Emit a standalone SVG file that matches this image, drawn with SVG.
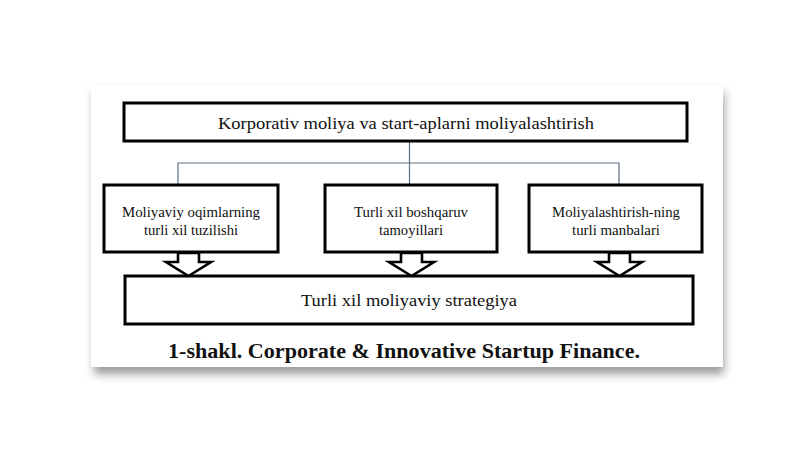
<svg xmlns="http://www.w3.org/2000/svg" width="800" height="449" viewBox="0 0 800 449">
<defs>
<filter id="sh" x="-10%" y="-10%" width="120%" height="130%">
<feGaussianBlur stdDeviation="5"/>
</filter>
<style>
.box{fill:#fff;stroke:#000;stroke-width:3}
.t{font-family:"Liberation Serif","Times New Roman",serif;fill:#111;text-anchor:middle}
.conn{fill:none;stroke:#5b7184;stroke-width:1.2}
.arr{fill:#fff;stroke:#000;stroke-width:2.6;stroke-linejoin:miter}
</style>
</defs>
<rect width="800" height="449" fill="#fff"/>
<rect x="94" y="92" width="630" height="282" fill="#9a9a9a" filter="url(#sh)"/>
<rect x="91" y="85" width="632" height="282" fill="#fff"/>
<g id="connectors">
<path class="conn" d="M409.5 142 V185 M178 185 V163 H619 V185"/>
<polygon class="arr" points="178,253 199,253 199,262 211,262 188.5,276 166,262 178,262"/>
<polygon class="arr" points="401,253 422,253 422,262 434,262 411.5,276 389,262 401,262"/>
<polygon class="arr" points="609,253 630,253 630,262 642,262 619.5,276 597,262 609,262"/>
</g>
<g id="top">
<rect class="box" x="124" y="103" width="563" height="38"/>
<text class="t" x="406" y="129" font-size="17" textLength="376" lengthAdjust="spacingAndGlyphs">Korporativ moliya va start-aplarni moliyalashtirish</text>
</g>
<g id="left">
<rect class="box" x="104" y="185" width="174" height="67"/>
<text class="t" x="191" y="217" font-size="15" textLength="138" lengthAdjust="spacingAndGlyphs">Moliyaviy oqimlarning</text>
<text class="t" x="191" y="235" font-size="15" textLength="94" lengthAdjust="spacingAndGlyphs">turli xil tuzilishi</text>
</g>
<g id="middle">
<rect class="box" x="325" y="185" width="172" height="67"/>
<text class="t" x="411" y="217" font-size="15" textLength="114" lengthAdjust="spacingAndGlyphs">Turli xil boshqaruv</text>
<text class="t" x="411" y="235" font-size="15" textLength="64" lengthAdjust="spacingAndGlyphs">tamoyillari</text>
</g>
<g id="right">
<rect class="box" x="529" y="185" width="173" height="67"/>
<text class="t" x="616" y="217" font-size="15" textLength="128" lengthAdjust="spacingAndGlyphs">Moliyalashtirish-ning</text>
<text class="t" x="616" y="235" font-size="15" textLength="88" lengthAdjust="spacingAndGlyphs">turli manbalari</text>
</g>
<g id="bottom">
<rect class="box" x="125" y="276" width="568" height="48"/>
<text class="t" x="409" y="306" font-size="17" textLength="216" lengthAdjust="spacingAndGlyphs">Turli xil moliyaviy strategiya</text>
</g>
<text class="t" x="404" y="358" font-size="21" font-weight="bold" textLength="472" lengthAdjust="spacingAndGlyphs">1-shakl. Corporate &amp; Innovative Startup Finance.</text>
</svg>
